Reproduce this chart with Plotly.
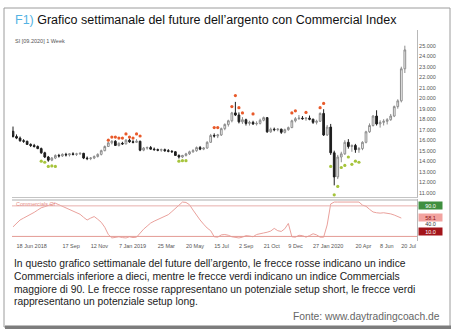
import plotly.graph_objects as go
import pandas as pd

W, H = 464, 336

# ---------------- data ----------------
dates = pd.date_range("2018-06-11", periods=112, freq="7D")

opens = [16.85,16.35,16.20,15.95,15.90,15.60,15.50,15.40,15.20,14.80,
         14.40,14.10,14.30,14.55,14.50,14.65,14.60,14.70,14.65,14.70,
         14.75,14.30,14.25,14.30,14.45,14.65,15.00,15.40,15.75,15.90,
         15.50,15.70,15.65,16.00,15.85,15.80,15.90,15.05,15.25,15.30,
         15.15,15.10,15.05,15.10,15.00,14.95,14.90,14.55,14.40,14.55,
         14.70,14.90,15.00,15.30,15.15,15.25,15.80,16.45,16.40,16.50,
         17.10,17.50,17.85,18.60,18.40,17.75,17.95,17.60,17.70,17.55,
         17.60,17.90,18.15,16.80,17.05,17.00,17.05,16.75,17.00,17.20,
         17.85,18.05,18.10,18.05,18.10,18.00,17.70,17.80,18.55,16.50,
         17.25,14.80,12.50,14.40,14.70,15.80,15.40,15.50,15.10,15.20,
         15.80,16.80,17.40,18.30,17.55,17.70,17.80,17.95,18.30,19.20,
         19.75,22.80]
highs = [17.30,16.55,16.35,16.10,15.95,15.70,15.65,15.50,15.30,14.90,
         14.50,14.40,14.65,14.70,14.75,14.80,14.75,14.85,14.80,14.85,
         14.80,14.45,14.40,14.55,14.75,15.10,15.50,15.85,16.00,16.00,
         15.80,15.85,16.10,16.15,16.00,16.10,15.95,15.35,15.40,15.45,
         15.30,15.20,15.20,15.20,15.15,15.05,14.95,14.65,14.60,14.80,
         15.00,15.15,15.40,15.45,15.35,15.90,16.60,16.65,16.60,17.20,
         17.60,17.95,18.70,19.65,18.65,18.20,18.05,17.85,17.85,17.80,
         18.05,18.25,18.20,17.20,17.20,17.15,17.10,17.10,17.30,17.95,
         18.20,18.40,18.30,18.20,18.35,18.05,17.95,18.65,18.95,17.45,
         17.55,15.00,14.60,14.90,16.00,16.10,15.60,15.65,15.35,15.90,
         16.90,17.60,18.40,18.85,17.90,18.00,18.10,18.50,19.30,19.90,
         23.00,25.00]
lows = [16.25,16.10,15.85,15.75,15.55,15.35,15.30,15.15,14.70,14.30,
        13.95,14.00,14.20,14.35,14.40,14.45,14.45,14.55,14.50,14.60,
        14.20,14.10,14.10,14.20,14.35,14.55,14.95,15.35,15.60,15.45,
        15.40,15.55,15.60,15.75,15.70,15.75,14.95,14.95,15.10,15.10,
        15.00,14.95,14.90,14.90,14.85,14.80,14.50,14.25,14.30,14.45,
        14.60,14.80,14.90,15.05,15.05,15.20,15.75,16.25,16.20,16.40,
        16.95,17.30,17.70,18.30,17.60,17.55,17.40,17.40,17.45,17.40,
        17.50,17.80,16.70,16.70,16.85,16.85,16.60,16.65,16.90,17.15,
        17.70,17.95,17.95,17.85,17.90,17.55,17.50,17.75,16.40,16.40,
        14.60,11.70,12.30,13.90,14.60,15.20,14.90,14.80,14.80,15.05,
        15.70,16.70,17.30,17.40,17.20,17.40,17.50,17.85,18.20,19.00,
        19.60,22.40]
closes = [16.35,16.20,15.95,15.90,15.60,15.50,15.40,15.20,14.80,14.40,
          14.10,14.30,14.55,14.50,14.65,14.60,14.70,14.65,14.70,14.75,
          14.30,14.25,14.30,14.45,14.65,15.00,15.40,15.75,15.90,15.50,
          15.70,15.65,16.00,15.85,15.80,15.90,15.05,15.25,15.30,15.15,
          15.10,15.05,15.10,15.00,14.95,14.90,14.55,14.40,14.55,14.70,
          14.90,15.00,15.30,15.15,15.25,15.80,16.45,16.40,16.50,17.10,
          17.50,17.85,18.60,18.40,17.75,17.95,17.60,17.70,17.55,17.60,
          17.90,18.15,16.80,17.05,17.00,17.05,16.75,17.00,17.20,17.85,
          18.05,18.10,18.05,18.10,18.00,17.70,17.80,18.55,16.50,17.25,
          14.80,12.50,14.40,14.70,15.80,15.40,15.50,15.10,15.20,15.80,
          16.80,17.40,18.30,17.55,17.70,17.80,17.95,18.30,19.20,19.75,
          22.80,24.60]

# Commercials Index (0..100), one value per week (last week not yet shown)
ci = [35,44,53,58,63,66,73,79,85,88,
      91,93,97,93,89,85,82,78,73,68,
      60,53,58,62,55,47,34,15,6,8,
      9,7,6,9,7,8,19,29,37,45,
      50,54,57,61,67,75,83,92,100,99,
      93,79,65,53,42,32,25,9,8,14,
      15,13,9,7,6,8,12,11,9,15,
      18,19,21,24,31,25,23,30,44,9,
      8,13,12,8,12,17,14,8,8,40,
      95,100,100,100,100,100,100,99,100,92,
      89,81,74,72,71,72,71,69,66,61,
      58.1]

# signal dots: red = index below 10, green = index above 90
red_idx = [27,28,29,30,31,32,33,34,35,36,57,58,62,63,64,65,68,79,80,83,87,88]
red_lvl = [16.0,16.3,16.3,16.2,16.2,16.6,16.3,16.2,16.6,16.4,17.2,17.2,
           19.2,20.25,19.1,18.6,18.5,18.6,18.8,18.65,19.1,19.5]
green_idx = [8,9,10,11,12,47,48,49,90,91,92,93,94,95,96,97,98]
green_lvl = [14.0,13.9,13.5,13.55,13.5,14.0,14.05,14.05,
             13.5,10.8,11.6,13.4,13.6,14.4,13.7,14.0,13.9]

tick_dates = ["2018-06-18","2018-09-17","2018-11-12","2019-01-07","2019-03-25",
              "2019-05-20","2019-07-15","2019-09-02","2019-10-21","2019-12-09",
              "2020-01-27","2020-04-20","2020-06-08","2020-07-20"]
tick_text = ["18 Jun 2018","17 Sep","12 Nov","7 Jan 2019","25 Mar","20 May",
             "15 Jul","2 Sep","21 Oct","9 Dec","27 Jan 2020","20 Apr","8 Jun","20 Jul"]
price_ticks = [11,12,13,14,15,16,17,18,19,20,21,22,23,24,25]
level_labels = ["90.0", "58.1", "40.0", "10.0"]

# ---------------- layout helpers ----------------
def px(x):
    return x / W

def py(y):
    return 1 - y / H

X0, X1 = 12, 417
days_per_px = 7 / 3.53
x_start = dates[0] + pd.Timedelta(days=(X0 - 13) * days_per_px)
x_end = dates[0] + pd.Timedelta(days=(X1 - 13) * days_per_px)

# main panel pixel mapping: 25 at y=45.7, 10.5 px per unit
M_TOP, M_BOT = 30, 197
p_hi = 25 + (45.7 - M_TOP) / 10.5
p_lo = 25 - (M_BOT - 45.7) / 10.5
L_TOP, L_BOT = 199, 241

FONT = "Liberation Sans, Arial, sans-serif"

fig = go.Figure()
fig.add_trace(go.Candlestick(
    x=dates, open=opens, high=highs, low=lows, close=closes,
    increasing=dict(line=dict(color="#8c8c8c", width=1), fillcolor="#ffffff"),
    decreasing=dict(line=dict(color="#1e1e1e", width=1), fillcolor="#1e1e1e"),
    whiskerwidth=0, xaxis="x", yaxis="y", hoverinfo="skip",
))
fig.add_trace(go.Scatter(
    x=[dates[i] for i in red_idx], y=red_lvl, mode="markers",
    marker=dict(size=3.2, color="#e85a2a"), xaxis="x", yaxis="y", hoverinfo="skip"))
fig.add_trace(go.Scatter(
    x=[dates[i] for i in green_idx], y=green_lvl, mode="markers",
    marker=dict(size=3.2, color="#a6c43c"), xaxis="x", yaxis="y", hoverinfo="skip"))
fig.add_trace(go.Scatter(
    x=dates[:len(ci)], y=ci, mode="lines",
    line=dict(color="#eaa19c", width=1), xaxis="x2", yaxis="y2", hoverinfo="skip"))

axis_x = dict(domain=[px(X0), px(X1)], range=[x_start, x_end], showgrid=False,
              zeroline=False, rangeslider=dict(visible=False), fixedrange=True)
fig.update_layout(
    width=W, height=H, margin=dict(l=0, r=0, t=0, b=0),
    paper_bgcolor="white", plot_bgcolor="white", showlegend=False,
    xaxis=dict(**axis_x, anchor="y", showticklabels=False,
               showline=True, linecolor="#c4c4c4", linewidth=1),
    yaxis=dict(domain=[py(M_BOT), py(M_TOP)], range=[p_lo, p_hi], side="right",
               anchor="x", showgrid=False, zeroline=False,
               tickvals=price_ticks, ticktext=[f"{v:.3f}" for v in price_ticks],
               tickfont=dict(family=FONT, size=5.5, color="#555555"),
               ticks="", showline=True, linecolor="#b8b8b8", linewidth=1),
    xaxis2=dict(**axis_x, anchor="y2", tickvals=tick_dates, ticktext=tick_text,
                ticks="", ticklabelposition="outside right", tickangle=0,
                tickfont=dict(family=FONT, size=5.5, color="#555555"),
                showline=False),
    yaxis2=dict(domain=[py(L_BOT), py(L_TOP)], range=[-2, 108], side="right",
                anchor="x2", showgrid=False, zeroline=False, showticklabels=False,
                ticks="", showline=True, linecolor="#b8b8b8", linewidth=1),
)

shapes = []
# level lines of the index panel
for lvl, col in [(90, "#e8b0ac"), (10, "#e39a94")]:
    shapes.append(dict(type="line", xref="paper", yref="y2", x0=px(X0), x1=px(X1),
                       y0=lvl, y1=lvl, line=dict(color=col, width=1)))
# separator band at top of lower panel
shapes.append(dict(type="line", xref="paper", yref="paper", x0=px(X0), x1=px(X1),
                   y0=py(200), y1=py(200), line=dict(color="#d6d6d6", width=2)))
# outer frame
shapes.append(dict(type="rect", xref="paper", yref="paper", x0=px(4), x1=px(450),
                   y0=py(327), y1=py(8), line=dict(color="#9c9c9c", width=1)))
shapes.append(dict(type="rect", xref="paper", yref="paper", x0=px(5), x1=px(451),
                   y0=py(329), y1=py(325.5), line=dict(width=0), fillcolor="#7d7d7d"))
fig.update_layout(shapes=shapes)

ann = []
ann.append(dict(xref="paper", yref="paper", x=px(12.5), y=py(20), xanchor="left",
                yanchor="middle", showarrow=False,
                text="<span style='color:#54b3e3'>F1)</span> Grafico settimanale del future dell’argento con Commercial Index",
                font=dict(family=FONT, size=12.5, color="#111111")))
ann.append(dict(xref="paper", yref="paper", x=px(12.5), y=py(41), xanchor="left",
                yanchor="middle", showarrow=False, text="SI [09.2020] 1 Week",
                font=dict(family=FONT, size=5.5, color="#555555")))
ann.append(dict(xref="paper", yref="paper", x=px(14), y=py(204.5), xanchor="left",
                yanchor="middle", showarrow=False, text="Commercials CI",
                font=dict(family=FONT, size=5.5, color="#e58f88")))
# value boxes on the right of the index panel
box_y = [205.5, 217, 223.8, 231.5]
box_bg = ["#3f8f3f", "#f2a3a0", "rgba(0,0,0,0)", "#a3141a"]
box_fg = ["#ffffff", "#8a1010", "#333333", "#ffffff"]
for t, yy, bg, fg in zip(level_labels, box_y, box_bg, box_fg):
    ann.append(dict(xref="paper", yref="paper", x=px(418), y=py(yy), xanchor="left",
                    yanchor="middle", showarrow=False, text=t, bgcolor=bg,
                    borderpad=0.5, width=22, align="center",
                    font=dict(family=FONT, size=5.5, color=fg)))
caption = [
    "In questo grafico settimanale del future dell’argento, le frecce rosse indicano un indice",
    "Commercials inferiore a dieci, mentre le frecce verdi indicano un indice Commercials",
    "maggiore di 90. Le frecce rosse rappresentano un potenziale setup short, le frecce verdi",
    "rappresentano un potenziale setup long.",
]
for line, yy in zip(caption, [263.3, 276.6, 289.3, 301.8]):
    ann.append(dict(xref="paper", yref="paper", x=px(12), y=py(yy), xanchor="left",
                    yanchor="middle", showarrow=False, text=line,
                    font=dict(family=FONT, size=10.3, color="#1c1c1c")))
ann.append(dict(xref="paper", yref="paper", x=px(442), y=py(316), xanchor="right",
                yanchor="middle", showarrow=False, text="Fonte: www.daytradingcoach.de",
                font=dict(family=FONT, size=10.3, color="#666666")))
fig.update_layout(annotations=ann)

fig.write_html("out.html")
